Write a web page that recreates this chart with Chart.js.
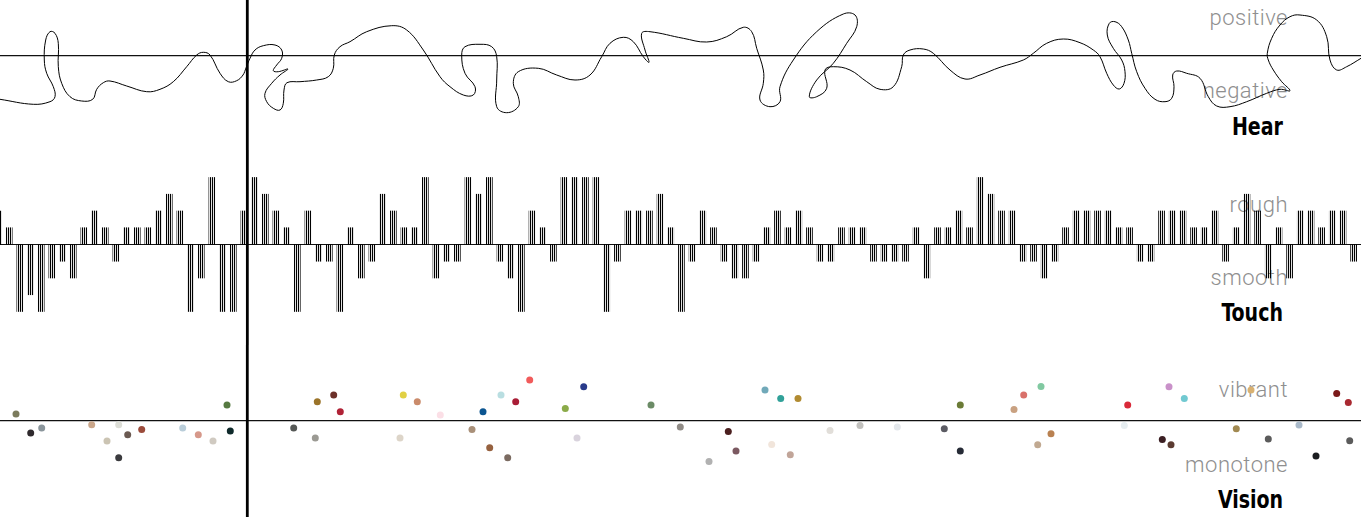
<!DOCTYPE html>
<html>
<head>
<meta charset="utf-8">
<script src="https://cdn.jsdelivr.net/npm/chart.js@4.4.1/dist/chart.umd.min.js"></script>
<style>
  html, body { margin: 0; padding: 0; background: #fff; }
  #wrap { position: relative; width: 1361px; height: 517px; overflow: hidden; }
  canvas { position: absolute; left: 0; }
  .lbl {
    position: absolute; right: 73px; white-space: nowrap;
    font-family: Roboto, sans-serif; font-weight: 300; font-size: 22px;
    line-height: 22px; letter-spacing: 0.5px; color: #8f8f8f;
  }
  .ttl {
    position: absolute; right: 78px; white-space: nowrap;
    font-family: "DejaVu Sans Condensed", "DejaVu Sans", sans-serif; font-stretch: condensed;
    font-weight: bold; font-size: 24px; line-height: 24px; color: #000;
    transform: scaleX(0.88); transform-origin: right center;
  }
</style>
</head>
<body>
<div id="wrap">
  <div class="lbl" style="top:7px">positive</div>
  <div class="lbl" style="top:80px">negative</div>
  <div class="ttl" style="top:115px">Hear</div>

  <div class="lbl" style="top:194px">rough</div>
  <div class="lbl" style="top:267px">smooth</div>
  <div class="ttl" style="top:301px">Touch</div>

  <div class="lbl" style="top:379px">vibrant</div>
  <div class="lbl" style="top:454px">monotone</div>
  <div class="ttl" style="top:488px">Vision</div>

  <canvas id="hear" width="1361" height="150" style="top:0"></canvas>
  <canvas id="touch" width="1361" height="195" style="top:150px"></canvas>
  <canvas id="vision" width="1361" height="172" style="top:345px"></canvas>
</div>

<script>
// Hear: sound curve (x = time, y = positive / negative)
const hearX = [0, 33.3, 50, 55, 53.3, 46.7, 44.3, 45.7, 50, 55, 58.3, 58.3, 61.7, 70, 81.7, 92.7, 96.7, 103.3, 110, 126.7,
  146.7, 160, 173.3, 186.7, 196.7, 203.3, 210, 220, 228.3, 236.7, 243, 246, 250, 255, 263.3, 275, 281.7, 281.7, 276.7, 273.3,
  278.3, 288, 280, 271.7, 265, 266.7, 273.3, 280, 283.3, 284, 287, 300, 316.7, 328.3, 333.3, 334.3, 340, 350, 366.7, 391.7,
  406.7, 423.3, 440, 450, 463.3, 473.3, 475, 465, 461.7, 465, 480, 491.7, 496.7, 496.7, 496.7, 506.7, 518.3, 518.3, 513.3, 518.3,
  538.3, 556.7, 575, 590, 601.7, 610, 623.3, 633.3, 643.3, 649, 645, 641.7, 650, 683.3, 706.7, 726.7, 743.3, 751.7, 756.7, 763.3,
  763.3, 760, 770, 780, 780, 793.3, 816.7, 843.3, 855, 856.7, 846.7, 833.3, 816.7, 809.3, 816.7, 826.7, 825, 833.3, 850, 866.7,
  880, 893.3, 901.7, 903.3, 910, 923.3, 933.3, 950, 965, 980, 1000, 1023.3, 1033.3, 1046.7, 1063.3, 1080, 1093.3, 1100, 1106.7, 1113.3,
  1119.3, 1124, 1125, 1121.7, 1113.3, 1107.3, 1109.3, 1115, 1121.7, 1128.3, 1131.7, 1136.7, 1145, 1155, 1165, 1171.7, 1174, 1172.7, 1176.7, 1186.7,
  1200, 1208.3, 1216.7, 1230, 1246.7, 1266.7, 1280, 1290, 1281.7, 1273.3, 1268.3, 1267.3, 1271.7, 1280, 1290, 1300, 1316.7, 1326.7, 1330, 1336.7,
  1346.7, 1361];
const hearY = [-43.6, -48.6, -46, -41, -31, -17.6, -4.3, 15.7, 24, 22.4, 12.4, -11, -27.6, -41, -45.3, -43.6, -33.6, -27, -25.3, -30.3,
  -36, -33.6, -26, -11, 0.7, 3.4, 0.7, -17.6, -26, -25, -19.3, -12.3, -2.6, 5.7, 10, 10.7, 5.7, -2.6, -9.3, -15,
  -16, -13.3, -19.3, -27.6, -37.6, -46, -52.6, -54.3, -47.6, -34.3, -27, -26, -24.3, -21, -12.6, 0.7, 9, 14, 24, 30,
  25.7, 5.7, -21, -31, -39.3, -39.3, -31, -17.6, 0.7, 9, 11.4, 9, -1, -24.3, -51, -57, -51, -41, -27.6, -16,
  -12.6, -19.3, -24.3, -19.3, -1, 12.4, 18.4, 14, -1, -6.6, 5.7, 22.4, 24, 17.4, 13.7, 19, 28.4, 24, 7.4, -14.3,
  -27.6, -44.3, -51, -46, -31, -4.3, 24, 41.7, 40.7, 29, 12.4, -7.6, -24.3, -41, -41, -32.6, -14.3, -11, -14.3, -26,
  -33.6, -31, -11, 0.7, 5.7, 6.7, 2.4, -14.3, -23.3, -19.3, -11.6, -4.3, 2.4, 12.4, 16.7, 13, 5.7, -1, -17.6, -29.3,
  -33.3, -27.6, -16, -4.3, 7.4, 20.7, 32.4, 34, 29, 15.7, 2.4, -16, -32.6, -43.6, -46, -42.6, -31, -19.3, -15.3, -17.6,
  -22.6, -41, -50.3, -51, -46, -37.6, -33.6, -35, -26, -14.3, -4.3, 2.4, 17.4, 30.7, 39, 40.7, 35.7, 19, -4.3, -14.3,
  -11, -2.6];

// Touch: one bar per step, rough (+) / smooth (-)
const touchLevels = [2, 1, -4, -3, -4, -2, -1, -2, 1, 2,
  1, -1, 1, 1, 1, 2, 3, 2, -4, -2,
  4, -4, -4, 2, 4, 3, 2, 1, -4, 2,
  -1, -1, -4, 1, -2, -1, 3, 2, 1, 1,
  4, -2, -1, -1, 4, 3, 4, -1, -2, -4,
  2, 1, -1, 4, 4, 4, 4, -4, -1, 2,
  2, 2, 3, 1, -4, -1, 2, 1, -1, -2,
  -2, -1, 1, 2, 1, 2, 1, -1, -1, 1,
  1, 1, -1, -1, -1, -1, 1, -2, 1, 1,
  2, 1, 4, 3, 2, 2, -1, -1, -2, -1,
  1, 2, 2, 2, 2, 1, 1, -1, -1, 2,
  2, 2, 1, 1, 2, -1, 1, 3, 2, -2,
  1, -2, 2, 2, 1, 2, 2, -1];

// Vision: colour samples, vibrant (+) / monotone (-)
const visionX = [16, 30.7, 41.7, 91.7, 107, 118.7, 118.7, 127.7, 141.7, 182.7, 198.3, 213, 227, 230.3,
  293.7, 315.3, 317.3, 333.7, 340.3, 400, 403.3, 417.3, 440.3, 472, 483, 489.7, 501, 507.7, 515.7, 529.7,
  565.3, 577, 583.7, 651, 680.3, 709, 728.3, 736, 765, 771.7, 780.7, 790.3, 798, 830, 860, 897.3,
  944.3, 960.3, 960.3, 1014, 1023.7, 1037.7, 1041, 1051, 1124.3, 1127.7, 1162.3, 1169, 1171, 1184.3,
  1236.3, 1251, 1268.3, 1299, 1316, 1336.7, 1348.3, 1349.7];
const visionY = [6.7, -12.3, -7.3, -4, -20.3, -4, -37, -14, -8.7, -7.3, -14, -20.3, 15.7, -10.3,
  -7.3, -17.3, 19, 25.7, 9, -17.3, 25.7, 19, 5.7, -8.7, 9, -27, 25.7, -37, 19, 40.7,
  12.3, -17.3, 34, 15.7, -6.3, -40.7, -10.7, -30.3, 30.7, -23.7, 22.3, -34, 22.3, -9.7, -4.7, -6.3,
  -8, 15.7, -30.3, 11.3, 25.7, -24, 34.3, -13, -4.7, 15.7, -18.7, 34, -24, 22.3,
  -8, 30.7, -18.3, -4.3, -35.3, 27.3, 18.3, -20];
const visionColors = ['#7b7b5c', '#2f2a2d', '#8a959b', '#caa68a', '#cbc4b3', '#dcddd6', '#3b3b3e', '#6b5a52', '#9b4b3b', '#b9cdd9', '#d6988a', '#d0cac1', '#567a41', '#0f2a2b',
  '#555856', '#9b9a93', '#9b7429', '#6c3029', '#b02236', '#ddd5c9', '#e1d044', '#ca8b6b', '#fbdfe6', '#a99079', '#0b5591', '#96613f', '#b9dee1', '#7b6b61', '#a91d36', '#f15b5b',
  '#8bab49', '#d9d3dd', '#293b8b', '#6b8b66', '#908b86', '#b1b1b1', '#4b1f1f', '#7b5961', '#71a9b9', '#f1e5db', '#31a199', '#c1a599', '#b18b31', '#e1ded9', '#c1c0bd', '#e3e7eb',
  '#5b5b63', '#6b7b36', '#262b36', '#c9a181', '#d9716b', '#c1a991', '#81c9a1', '#b98151', '#e6edf0', '#d92939', '#3b1f23', '#c991c9', '#5b3b31', '#71c9d1',
  '#a18951', '#d9b171', '#5b5b5b', '#a9b9c9', '#1b1d21', '#7b1919', '#a92931', '#5b5b5b'];

// zero line + playhead
const axisLines = {
  id: 'axisLines',
  beforeDatasetsDraw(chart) {
    const { ctx, chartArea, scales } = chart;
    const y0 = scales.y.getPixelForValue(0);
    ctx.save();
    ctx.strokeStyle = '#111';
    ctx.lineWidth = 1.2;
    ctx.beginPath();
    ctx.moveTo(chartArea.left, y0);
    ctx.lineTo(chartArea.right, y0);
    ctx.stroke();
    ctx.restore();
  },
  afterDatasetsDraw(chart, args, opts) {
    const { ctx } = chart;
    const x = chart.scales.x.getPixelForValue(opts.playX);
    ctx.save();
    ctx.strokeStyle = '#000';
    ctx.lineWidth = 2.8;
    ctx.beginPath();
    ctx.moveTo(x, 0);
    ctx.lineTo(x, chart.height);
    ctx.stroke();
    ctx.restore();
  }
};
Chart.register(axisLines);

function opsi(xMin, xMax, yMin, yMax, playX) {
  return {
    responsive: false,
    animation: false,
    devicePixelRatio: 1,
    layout: { padding: 0, autoPadding: false },
    plugins: {
      legend: { display: false },
      tooltip: { enabled: false },
      axisLines: { playX }
    },
    scales: {
      x: { type: 'linear', display: false, offset: false, min: xMin, max: xMax },
      y: { type: 'linear', display: false, min: yMin, max: yMax }
    }
  };
}

// grafik Hear
new Chart(document.getElementById('hear'), {
  type: 'scatter',
  data: {
    datasets: [{
      data: hearX.map((x, i) => ({ x, y: hearY[i] })),
      showLine: true,
      borderColor: '#000',
      borderWidth: 1,
      pointRadius: 0,
      tension: 0.4
    }]
  },
  options: opsi(0, 1361, -94.3, 55.7, 247.3)
});

// pola garis untuk batang Touch
const pc = document.createElement('canvas');
pc.width = 2; pc.height = 1;
const pctx = pc.getContext('2d');
pctx.fillStyle = '#000';
pctx.fillRect(0, 0, 1, 1);
pctx.fillStyle = 'rgba(0,0,0,0.12)';
pctx.fillRect(1, 0, 1, 1);
const stripes = pctx.createPattern(pc, 'repeat');

new Chart(document.getElementById('touch'), {
  type: 'bar',
  data: {
    datasets: [{
      data: touchLevels.map((v, i) => ({ x: i, y: v })),
      backgroundColor: stripes,
      borderWidth: 0,
      barThickness: 6
    }]
  },
  options: opsi(0.14, 127.69, -6.0, 5.64, 23.32)
});

// grafik Vision
new Chart(document.getElementById('vision'), {
  type: 'scatter',
  data: {
    datasets: [{
      data: visionX.map((x, i) => ({ x, y: visionY[i] })),
      pointRadius: 3.5,
      pointBackgroundColor: visionColors,
      pointBorderWidth: 0,
      borderWidth: 0
    }]
  },
  options: opsi(0, 1361, -96.3, 75.7, 247.3)
});
</script>
</body>
</html>
